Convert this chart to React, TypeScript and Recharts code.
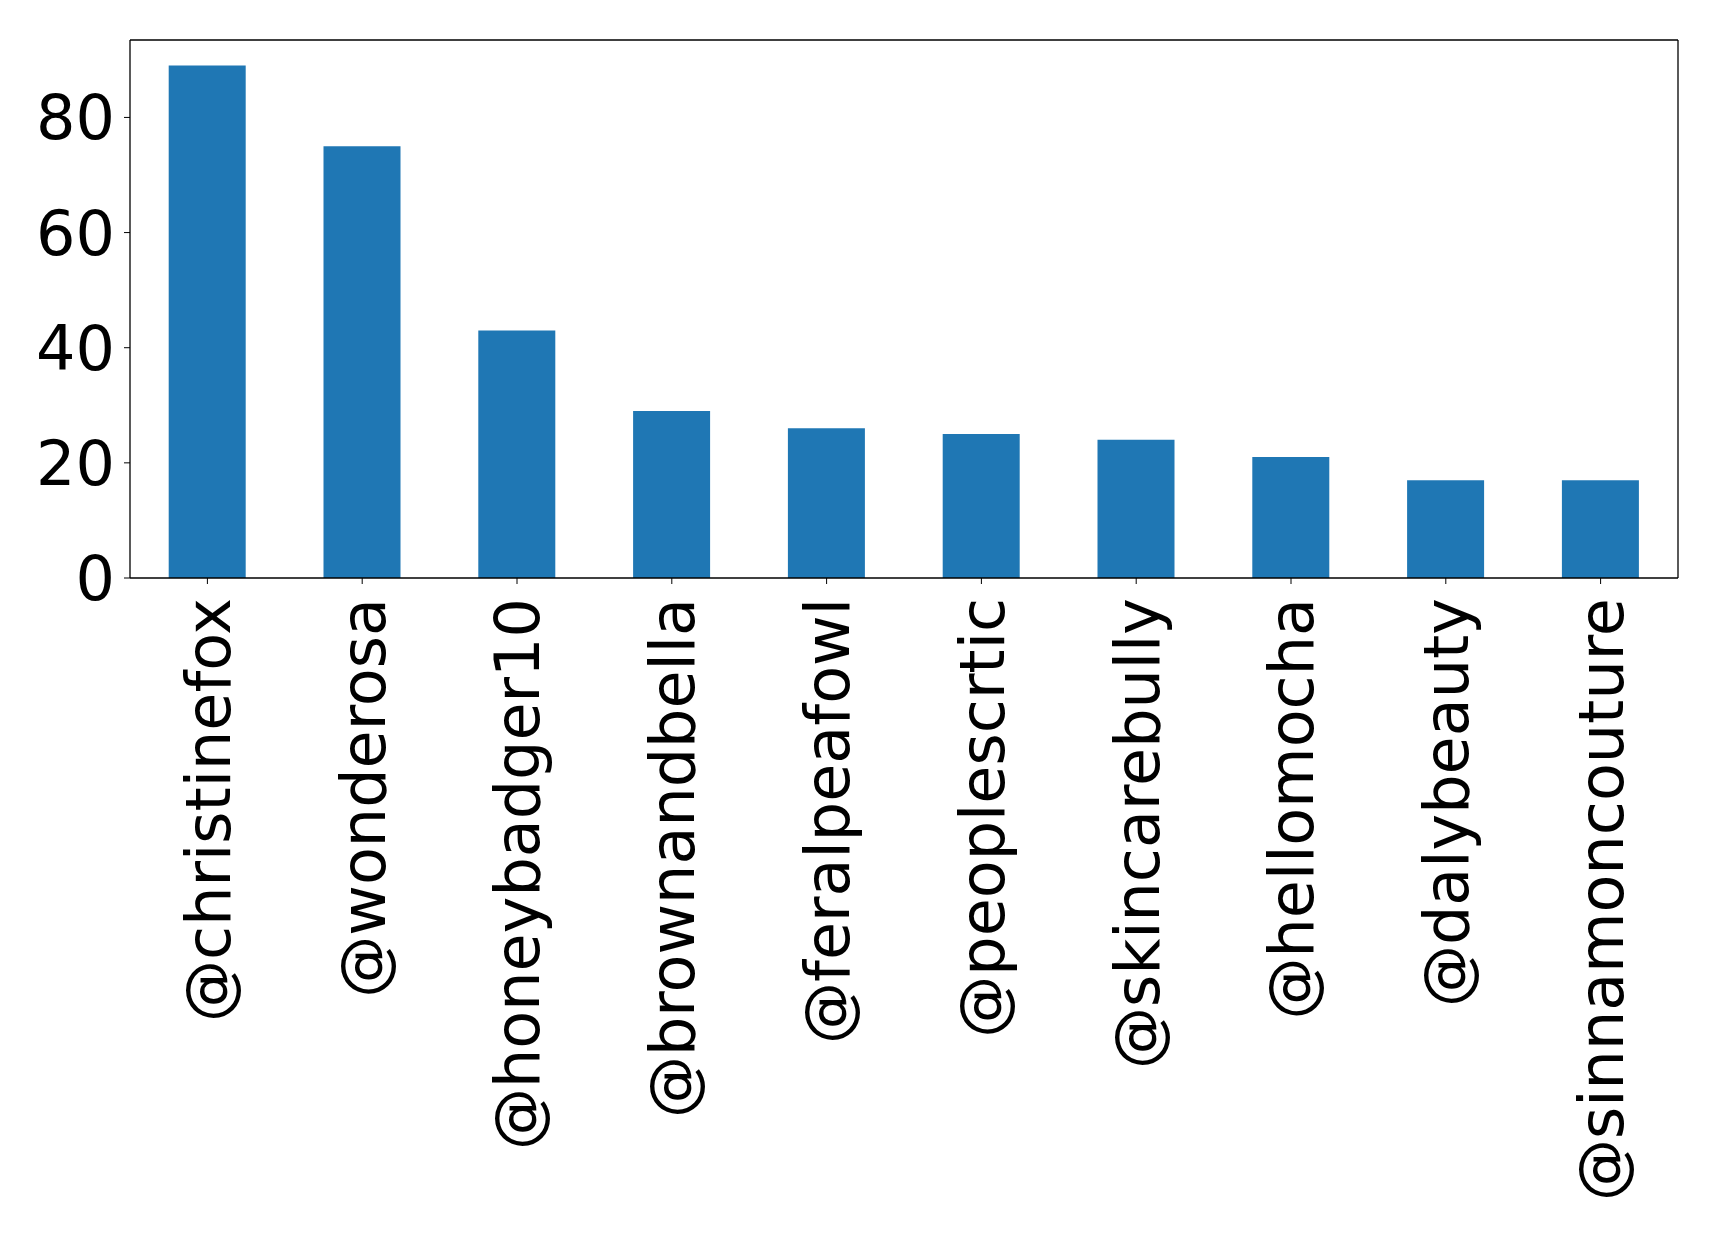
import { BarChart, Bar, XAxis, YAxis } from "recharts";

const handles = [
  "@christinefox",
  "@wonderosa",
  "@honeybadger10",
  "@brownandbella",
  "@feralpeafowl",
  "@peoplescrtic",
  "@skincarebully",
  "@hellomocha",
  "@dalybeauty",
  "@sinnamoncouture",
];
const mentions = [89, 75, 43, 29, 26, 25, 24, 21, 17, 17];
const yTicks = [0, 20, 40, 60, 80];

const data = handles.map((name, i) => ({ name, value: mentions[i] }));

const FONT = "DejaVu Sans, sans-serif";
const FONT_SIZE = 62;
const frameLine = { stroke: "#000", strokeWidth: 1.3 };

function HandleTick(props: any) {
  const { x, y, payload } = props;
  return (
    <g transform={`translate(${x},${y + 12})`}>
      <text
        transform="rotate(-90)"
        textAnchor="end"
        dy="0.36em"
        fill="#000"
        fontFamily={FONT}
        fontSize={FONT_SIZE}
      >
        {payload.value}
      </text>
    </g>
  );
}

export default function App() {
  return (
    <div style={{ position: "absolute", left: 0, top: 0, background: "#fff" }}>
      <BarChart
        width={1719}
        height={1235}
        data={data}
        margin={{ top: 39, right: 40, bottom: 0, left: 0 }}
        barCategoryGap="25%"
      >
        <XAxis
          dataKey="name"
          interval={0}
          height={657}
          tickSize={6}
          tickLine={{ stroke: "#000" }}
          axisLine={frameLine}
          tick={<HandleTick />}
        />
        {/* top and right edges of the frame */}
        <XAxis
          xAxisId="frame"
          dataKey="name"
          orientation="top"
          height={1}
          tick={false}
          tickLine={false}
          axisLine={frameLine}
        />
        <YAxis
          domain={[0, 93.45]}
          ticks={yTicks}
          width={130}
          tickSize={6}
          tickMargin={9}
          tickLine={{ stroke: "#000" }}
          axisLine={frameLine}
          tick={{ fill: "#000", fontFamily: FONT, fontSize: FONT_SIZE }}
        />
        <YAxis
          yAxisId="frame"
          orientation="right"
          domain={[0, 93.45]}
          width={1}
          tick={false}
          tickLine={false}
          axisLine={frameLine}
        />
        <Bar dataKey="value" fill="#1f77b4" isAnimationActive={false} />
      </BarChart>
    </div>
  );
}
